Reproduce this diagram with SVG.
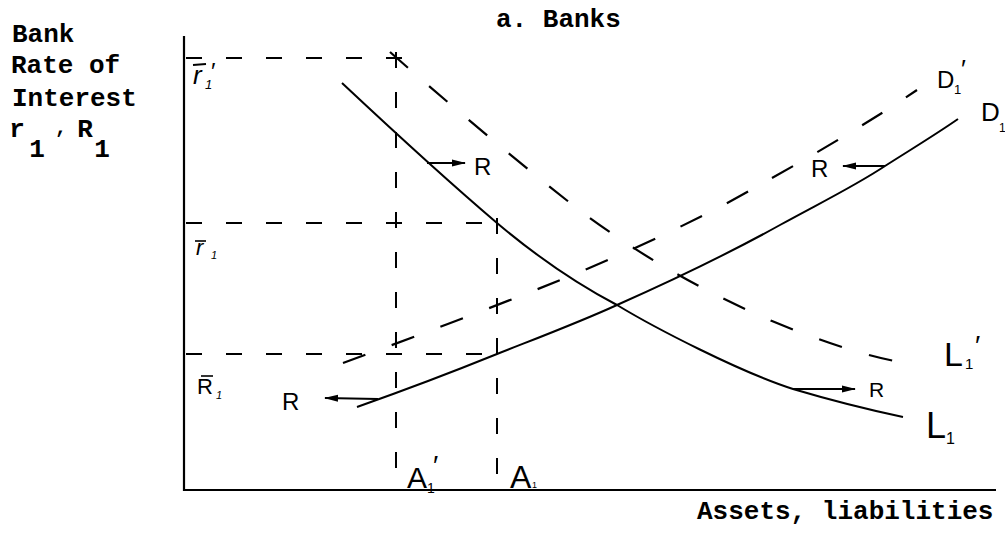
<svg xmlns="http://www.w3.org/2000/svg" width="1005" height="543" viewBox="0 0 1005 543">
<style>
.ax{stroke:#000;stroke-width:2.2;fill:none}
.cv{stroke:#000;stroke-width:2;fill:none}
.dc{stroke:#000;stroke-width:2.2;fill:none;stroke-dasharray:24 28}
.dg{stroke:#000;stroke-width:2;fill:none;stroke-dasharray:16 24}
.ar{stroke:#000;stroke-width:2;fill:none}
.tw{font-family:"Liberation Mono",monospace;font-size:26px;font-weight:bold;fill:#000}
.hw{font-family:"Liberation Sans",Arial,sans-serif;fill:#000}
</style>
<defs>
<marker id="ah" viewBox="0 0 14 8" refX="13" refY="4" markerWidth="14" markerHeight="8" markerUnits="userSpaceOnUse" orient="auto">
<path d="M0,0.5 L14,4 L0,7.5 Z" fill="#000"/>
</marker>
</defs>
<rect width="1005" height="543" fill="#fff"/>

<g id="axes">
<line class="ax" x1="184" y1="36" x2="184" y2="491"/>
<line class="ax" x1="183" y1="490" x2="996" y2="490"/>
</g>

<g id="guides">
<line class="dg" x1="186" y1="58" x2="402" y2="58"/>
<line class="dg" x1="396" y1="52" x2="396" y2="490"/>
<line class="dg" x1="186" y1="223" x2="503" y2="223"/>
<line class="dg" x1="497" y1="218" x2="497" y2="490"/>
<line class="dg" x1="186" y1="354" x2="503" y2="354"/>
</g>

<g id="connectors">
<path id="L1" class="cv" d="M342,83 C390,128 450,183 497,223 C535,255 575,283 617,305 C655,328 740,372 793,389 C830,400 870,410 903,417"/>
<path id="D1" class="cv" d="M357,407 C405,390 455,371 497,354 C540,337 580,322 617,305 C680,277 735,250 780,225 C820,203 855,186 885,166 C910,150 935,135 958,119"/>
<path id="L1p" class="dc" d="M390,52 C450,105 530,172 583,213 C640,255 700,290 772,321 C830,345 870,357 910,364"/>
<path id="D1p" class="dc" d="M343,363 C420,335 520,297 587,269 C660,238 720,208 756,187 C810,157 870,122 917,90"/>
<line class="ar" x1="427" y1="163" x2="465" y2="163" marker-end="url(#ah)"/>
<line class="ar" x1="885" y1="166" x2="843" y2="166" marker-end="url(#ah)"/>
<line class="ar" x1="378" y1="399" x2="325" y2="398" marker-end="url(#ah)"/>
<line class="ar" x1="793" y1="389" x2="855" y2="389" marker-end="url(#ah)"/>
</g>

<g id="title">
<text class="tw" x="496" y="27">a. Banks</text>
</g>

<g id="y-label">
<text class="tw" x="12" y="42">Bank</text>
<text class="tw" x="11" y="73">Rate of</text>
<text class="tw" x="12" y="106">Interest</text>
<text class="tw" x="17" y="137" text-anchor="middle">r</text>
<text class="tw" x="37" y="157" text-anchor="middle">1</text>
<text class="tw" x="61" y="133" text-anchor="middle" style="font-size:20px">,</text>
<text class="tw" x="85" y="137" text-anchor="middle">R</text>
<text class="tw" x="102" y="157" text-anchor="middle">1</text>
</g>

<g id="x-label">
<text class="tw" x="697" y="519">Assets, liabilities</text>
</g>

<g id="level-labels">
<line x1="193" y1="65" x2="206" y2="64" stroke="#000" stroke-width="1.8"/>
<text class="hw" x="193" y="84" font-size="26" font-style="italic">r</text>
<text class="hw" x="205" y="89" font-size="13" font-style="italic">1</text>
<text class="hw" x="211" y="80" font-size="24">′</text>
<line x1="195" y1="241" x2="206" y2="241" stroke="#000" stroke-width="1.6"/>
<text class="hw" x="196" y="255" font-size="22" font-style="italic">r</text>
<text class="hw" x="211" y="259" font-size="11" font-style="italic">1</text>
<line x1="201" y1="376" x2="213" y2="376" stroke="#000" stroke-width="1.6"/>
<text class="hw" x="197" y="394" font-size="22">R</text>
<text class="hw" x="216" y="399" font-size="11" font-style="italic">1</text>
</g>

<g id="curve-labels">
<text class="hw" x="474" y="175" font-size="24">R</text>
<text class="hw" x="811" y="177" font-size="24">R</text>
<text class="hw" x="282" y="410" font-size="24">R</text>
<text class="hw" x="869" y="397" font-size="21">R</text>
<text class="hw" x="981" y="121" font-size="26">D</text>
<text class="hw" x="999" y="132" font-size="12">1</text>
<text class="hw" x="937" y="88" font-size="24">D</text>
<text class="hw" x="954" y="94" font-size="13">1</text>
<text class="hw" x="961" y="78" font-size="26">′</text>
<text class="hw" x="944" y="366" font-size="34">L</text>
<text class="hw" x="965" y="369" font-size="15">1</text>
<text class="hw" x="975" y="355" font-size="28">′</text>
<text class="hw" x="926" y="438" font-size="36">L</text>
<text class="hw" x="946" y="444" font-size="16">1</text>
</g>

<g id="axis-labels">
<text class="hw" x="407" y="488" font-size="30">A</text>
<text class="hw" x="427" y="493" font-size="14">1</text>
<text class="hw" x="433" y="475" font-size="28">′</text>
<text class="hw" x="510" y="488" font-size="32">A</text>
<text class="hw" x="532" y="488" font-size="9">1</text>
</g>
</svg>
